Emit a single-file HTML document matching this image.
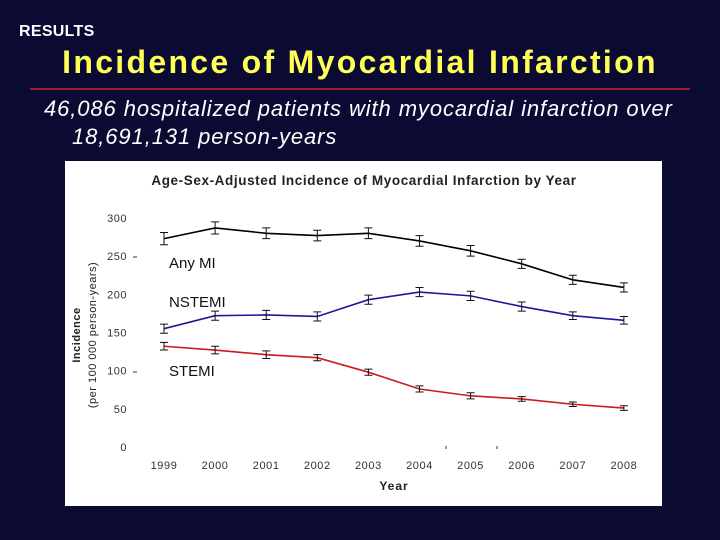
<!DOCTYPE html>
<html><head><meta charset="utf-8"><style>
body{margin:0;width:720px;height:540px;background:#0b0a33;overflow:hidden;font-family:"Liberation Sans",sans-serif;position:relative}
.abs{position:absolute}
</style></head><body>
<div class="abs" style="left:19px;top:23px;color:#fff;font-size:16px;font-weight:bold;letter-spacing:0.3px">RESULTS</div>
<div class="abs" style="left:0;width:720px;text-align:center;top:44px;color:#ffff55;font-size:32px;font-weight:bold;letter-spacing:2.3px">Incidence of Myocardial Infarction</div>
<div class="abs" style="left:30px;top:88px;width:660px;height:2px;background:#9b1c2a"></div>
<div class="abs" style="left:44px;top:95px;color:#fff;font-size:22px;font-style:italic;line-height:28px;letter-spacing:0.9px;white-space:nowrap">46,086 hospitalized patients with myocardial infarction over<br><span style="padding-left:28px">18,691,131 person-years</span></div>
<svg class="abs" style="left:0;top:0" width="720" height="540" id="chart">
<rect x="65" y="161" width="597" height="345" fill="#fff"/>
<text x="364" y="185" text-anchor="middle" font-size="13.5" font-weight="bold" fill="#222" letter-spacing="0.6">Age-Sex-Adjusted Incidence of Myocardial Infarction by Year</text>
<text x="394" y="490" text-anchor="middle" font-size="12" font-weight="bold" fill="#222" letter-spacing="1">Year</text>
<text transform="translate(80,335) rotate(-90)" text-anchor="middle" font-size="11" font-weight="bold" fill="#222" letter-spacing="0.5">Incidence</text>
<text transform="translate(96,335) rotate(-90)" text-anchor="middle" font-size="11" fill="#222" letter-spacing="0.5">(per 100 000 person-years)</text>
<text x="169" y="268" font-size="15" fill="#111">Any MI</text>
<text x="169" y="307" font-size="15" fill="#111">NSTEMI</text>
<text x="169" y="376" font-size="15" fill="#111">STEMI</text>
<path d="M133,257H137M133,372H137M446,446V449M497,446V449" stroke="#333" stroke-width="1"/>
<g id="g"></g>
</svg>
<script>
const years=[1999,2000,2001,2002,2003,2004,2005,2006,2007,2008];
const yTicks=[0,50,100,150,200,250,300];
const anyMI=[273,287,280,277,280,270,257,240,219,209];
const nstemi=[155,172,173,171,193,203,198,184,172,166];
const stemi=[132,127,121,117,98,76,67,63,56,51];
const anyErr=[8,8,7,7,7,7,7,6,6,6];
const nstErr=[6,6,6,6,6,6,6,6,5,5];
const stErr=[5,5,5,4,4,4,4,3,3,3];
const X=i=>164+i*51.1, Y=v=>447-v*0.7633;
const g=document.getElementById('g'),NS='http://www.w3.org/2000/svg';
function mk(t,a){const e=document.createElementNS(NS,t);for(const k in a)e.setAttribute(k,a[k]);g.appendChild(e);return e;}
yTicks.forEach(v=>{const t=mk('text',{x:127,y:Y(v)+4,'text-anchor':'end','font-size':11,fill:'#333','letter-spacing':0.5});t.textContent=v;

});
years.forEach((y,i)=>{const t=mk('text',{x:X(i),y:469,'text-anchor':'middle','font-size':11,fill:'#333','letter-spacing':0.6});t.textContent=y;

});
[[anyMI,anyErr,'#000','any-mi'],[nstemi,nstErr,'#1a1a99','nstemi'],[stemi,stErr,'#cc1a1a','stemi']].forEach(([d,e,c,n])=>{
 const p=mk('polyline',{points:d.map((v,i)=>X(i)+','+Y(v)).join(' '),fill:'none',stroke:c,'stroke-width':1.6});
 
 
 d.forEach((v,i)=>{const x=X(i),t=Y(v+e[i]),b=Y(v-e[i]);
  const eb=mk('path',{d:`M${x},${t}V${b}M${x-4},${t}H${x+4}M${x-4},${b}H${x+4}`,stroke:'#111','stroke-width':1,fill:'none'});
  
  });
});
</script>
</body></html>
